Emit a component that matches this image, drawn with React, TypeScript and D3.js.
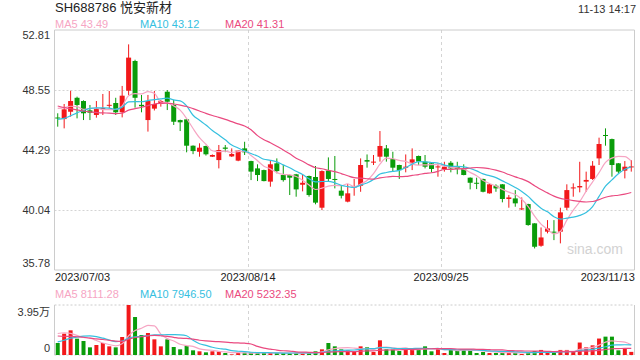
import React from "react";
import * as d3 from "d3";

const title = "SH688786 悦安新材";
const timeLabel = "11-13 14:17";
const dateLabels = ["2023/07/03", "2023/08/14", "2023/09/25", "2023/11/13"];
const dateIdx = [0, 30, 60, 89];
const priceTicks = [52.81, 48.55, 44.29, 40.04, 35.78];
const volMaxLabel = "3.95万";
const volMax = 39500;

const opens = [46.6,46.49,47.01,48.0,47.77,47.11,46.78,47.2,47.45,47.63,
46.97,48.5,50.61,47.5,46.42,47.23,47.56,48.43,47.49,46.42,
46.47,44.6,44.17,44.58,43.82,43.58,44.47,43.84,43.54,44.41,
43.51,42.99,42.87,42.05,43.35,42.52,42.52,42.57,41.83,42.45,
42.38,40.2,42.83,42.24,41.41,40.63,41.64,41.76,43.58,43.4,
43.82,44.41,43.65,43.23,43.06,43.4,43.87,43.47,43.35,43.1,
42.94,43.39,43.11,42.99,42.33,41.97,42.24,41.22,41.76,41.86,
40.82,40.86,40.1,40.46,39.09,37.5,38.5,38.5,38.5,40.2,
41.57,41.64,42.05,42.24,43.7,45.36,45.07,43.35,42.83,43.06];
const highs = [46.9,47.56,48.5,48.08,47.82,47.49,47.77,48.27,48.48,48.0,
48.84,51.79,50.7,48.2,48.2,48.48,47.84,48.55,47.84,46.45,
46.5,44.62,44.77,44.6,43.98,44.65,44.65,44.41,44.25,44.88,
43.53,43.28,42.9,43.58,43.7,43.23,42.55,42.6,42.52,42.48,
43.16,42.85,43.77,43.87,41.76,41.88,42.24,43.7,43.98,43.94,
45.64,44.65,44.17,43.25,43.98,44.41,43.9,43.94,43.37,43.35,
43.46,43.51,43.46,43.28,42.35,42.33,42.26,41.88,41.86,41.88,
41.1,41.45,40.93,40.48,39.1,38.8,39.32,39.32,40.2,41.86,
41.93,43.46,42.76,43.51,45.17,45.83,45.1,43.37,43.51,43.58];
const lows = [45.95,45.83,46.66,46.54,46.42,46.42,46.59,46.78,47.25,46.78,
46.61,48.2,47.3,46.97,45.6,47.1,47.37,47.13,46.07,45.64,
44.13,44.0,43.82,43.9,43.8,42.99,44.14,43.8,43.5,43.94,
42.16,42.09,42.07,41.69,42.64,42.05,41.1,40.98,41.36,40.98,
40.44,40.03,42.05,41.57,40.86,40.58,41.05,41.33,43.04,43.23,
43.47,43.47,42.8,42.24,42.71,42.87,43.23,42.99,42.71,42.4,
42.76,42.71,42.57,42.5,41.5,41.52,41.29,41.2,41.33,40.58,
40.2,40.27,40.03,38.92,37.31,37.43,38.38,37.9,37.67,40.03,
40.98,41.29,41.33,42.17,43.23,44.6,42.4,42.64,42.28,42.76];
const closes = [46.56,47.18,47.77,47.49,46.9,46.94,47.2,47.27,47.5,46.97,
48.15,50.85,48.0,47.4,47.77,47.56,47.77,47.72,46.3,46.26,
44.6,44.22,44.46,43.99,43.94,44.29,44.38,44.01,44.25,44.13,
42.76,42.52,42.09,43.28,42.8,42.16,42.33,41.5,41.97,41.1,
40.56,42.8,42.24,42.19,41.05,41.22,41.71,43.23,43.47,43.47,
44.58,43.82,43.04,42.87,43.11,43.63,43.47,43.11,42.95,43.13,
43.11,42.99,42.94,42.52,41.97,41.92,41.33,41.86,41.57,40.82,
40.93,40.51,40.15,38.97,37.43,38.09,38.73,38.45,39.87,41.45,
41.64,41.74,42.17,43.18,44.72,45.3,43.23,42.76,43.11,43.13];
const volumes = [9480,16850,19480,12900,11060,6050,7900,9480,6840,6050,
14220,39500,30000,15800,17380,12370,6840,12370,6320,4480,
7110,3690,2900,2100,2900,2630,1580,530,1580,1840,
1840,1580,1840,1580,1580,1580,1320,1580,1320,1840,
2900,4480,9480,6840,4480,3690,2900,6840,6050,2370,
11590,4480,4210,3160,5000,4210,4740,6840,2900,5000,
1580,4480,3690,4210,4480,1580,2370,1580,1580,2370,
1580,1580,790,2370,3160,4000,1840,1840,4000,4000,
2370,9850,6050,7640,13000,14500,14500,3690,5400,2466];
// closes / volumes of the 19 sessions before the first visible one (used only for the MAs)
const priorCloses = [49.6,49.3,49.0,48.6,48.2,48.0,47.9,47.7,47.8,47.6,
46.5,45.9,45.4,45.3,45.35,46.9,47.3,47.6,47.88];
const priorVolumes = [21000,20000,19500,19000,20500,19000,19500,20000,19000,19500,
3000,3500,4000,3800,3700,14000,22000,21000,18520];

const maLabelsPrice = ["MA5 43.49", "MA10 43.12", "MA20 41.31"];
const maLabelsVol = ["MA5 8111.28", "MA10 7946.50", "MA20 5232.35"];
const maPeriods = [5, 10, 20];
const maColors = ["#f6a5c3", "#35c0df", "#ea4a80"];

const RED = "#f2181a";
const GREEN = "#0a9c0a";
const FONT = "'Liberation Sans', Arial, 'Noto Sans CJK SC', sans-serif";

function movingAvg(prior: number[], vals: number[], n: number) {
  const all = prior.concat(vals);
  const off = prior.length;
  return vals.map((_, i) => d3.mean(all.slice(off + i - n + 1, off + i + 1)) as number);
}

export default function App() {
  const W = 640, H = 360;
  const left = 54.5, right = 634.5;
  const pTop = 30, pBot = 270, vTop = 305, vBot = 355;
  const idx = d3.range(closes.length);
  const x = d3.scaleBand<number>().domain(idx).range([left, right]).padding(0);
  const bw = x.bandwidth();
  const cx = (i: number) => (x(i) as number) + bw / 2;
  const y = d3.scaleLinear().domain([35.78, 52.81]).range([pBot, pTop]);
  const yv = d3.scaleLinear().domain([0, volMax]).range([vBot, vTop]);

  const priceMA = maPeriods.map((n) => movingAvg(priorCloses, closes, n));
  const volMA = maPeriods.map((n) => movingAvg(priorVolumes, volumes, n));
  const line = (sy: d3.ScaleLinear<number, number>) =>
    d3.line<number>().x((_, i) => cx(i)).y((d) => sy(d)).curve(d3.curveMonotoneX);

  const bodyW = 5;
  const volW = 4;
  const gridColor = "#d4d4d4";
  const legendX = [55, 140, 225];

  return (
    <svg width={W} height={H} style={{ position: "absolute", left: 0, top: 0, background: "#fff" }} fontFamily={FONT}>
      <defs>
        <clipPath id="pclip"><rect x={left} y={pTop} width={right - left} height={pBot - pTop} /></clipPath>
        <clipPath id="vclip"><rect x={left} y={vTop} width={right - left} height={vBot - vTop} /></clipPath>
      </defs>
      <text x={55} y={12} fontSize={13} fill="#222">{title}</text>
      <text x={636} y={13} fontSize={11} fill="#333" textAnchor="end">{timeLabel}</text>
      {maLabelsPrice.map((t, k) => (
        <text key={"lp" + k} x={legendX[k]} y={28} fontSize={11} fill={maColors[k]}>{t}</text>
      ))}

      {/* price grid */}
      {priceTicks.slice(1, 4).map((t) => (
        <line key={"g" + t} x1={left} x2={right} y1={Math.round(y(t)) + 0.5} y2={Math.round(y(t)) + 0.5}
          stroke={gridColor} strokeDasharray="2,2" />
      ))}
      {dateIdx.slice(1, 3).map((i) => (
        <g key={"vg" + i}>
          <line x1={Math.round(x(i) as number) + 0.5} x2={Math.round(x(i) as number) + 0.5} y1={pTop} y2={pBot}
            stroke={gridColor} strokeDasharray="3,3" />
          <line x1={Math.round(x(i) as number) + 0.5} x2={Math.round(x(i) as number) + 0.5} y1={vTop} y2={vBot}
            stroke={gridColor} strokeDasharray="3,3" />
        </g>
      ))}
      <line x1={left} x2={right} y1={pTop} y2={pTop} stroke="#ccc" />
      <line x1={left} x2={right} y1={pBot} y2={pBot} stroke="#ccc" />
      <line x1={left} x2={left} y1={pTop} y2={pBot} stroke="#ccc" />
      <line x1={right} x2={right} y1={pTop} y2={pBot} stroke="#ccc" />
      <line x1={left} x2={right} y1={vTop} y2={vTop} stroke="#ccc" strokeDasharray="2,2" />
      <line x1={left} x2={right} y1={vBot} y2={vBot} stroke="#ccc" strokeDasharray="2,2" />
      <line x1={left} x2={left} y1={vTop} y2={vBot} stroke="#ccc" />
      <line x1={right} x2={right} y1={vTop} y2={vBot} stroke="#ccc" />

      {/* price axis labels */}
      {priceTicks.map((t, k) => {
        const yy = y(t);
        const ty = k === 0 ? yy + 9 : k === priceTicks.length - 1 ? yy - 3 : yy + 4;
        return <text key={"pt" + t} x={50} y={ty} fontSize={11} fill="#333" textAnchor="end">{t.toFixed(2)}</text>;
      })}

      <text x={623} y={254} fontSize={14} fill="#d2d2d2" textAnchor="end">sina.com</text>

      {/* candles */}
      <g clipPath="url(#pclip)">
        {idx.map((i) => {
          const up = closes[i] >= opens[i];
          const col = up ? RED : GREEN;
          const top = y(Math.max(opens[i], closes[i]));
          const bot = y(Math.min(opens[i], closes[i]));
          return (
            <g key={"c" + i}>
              <line x1={cx(i)} x2={cx(i)} y1={y(highs[i])} y2={y(lows[i])} stroke={col} strokeWidth={1} />
              <rect x={cx(i) - bodyW / 2} y={top} width={bodyW} height={Math.max(1, bot - top)} fill={col} />
            </g>
          );
        })}
        {priceMA.map((m, k) => (
          <path key={"pm" + k} d={line(y)(m) as string} fill="none" stroke={maColors[k]} strokeWidth={1.2} />
        ))}
      </g>

      {/* date labels */}
      {dateLabels.map((t, k) => {
        const anchor = k === 0 ? "start" : k === dateLabels.length - 1 ? "end" : "middle";
        const xx = k === 0 ? 55 : k === dateLabels.length - 1 ? 635 : Math.round(x(dateIdx[k]) as number);
        return <text key={"d" + k} x={xx} y={281} fontSize={11} fill="#222" textAnchor={anchor}>{t}</text>;
      })}
      {maLabelsVol.map((t, k) => (
        <text key={"lv" + k} x={legendX[k]} y={298} fontSize={11} fill={maColors[k]}>{t}</text>
      ))}

      <text x={50} y={316} fontSize={11} fill="#333" textAnchor="end">{volMaxLabel}</text>
      <text x={50} y={352} fontSize={11} fill="#333" textAnchor="end">0</text>

      {/* volume */}
      <g clipPath="url(#vclip)">
        {idx.map((i) => {
          const up = closes[i] >= opens[i];
          return (
            <rect key={"v" + i} x={cx(i) - volW / 2} y={yv(volumes[i])} width={volW}
              height={vBot - yv(volumes[i])} fill={up ? RED : GREEN} />
          );
        })}
        {volMA.map((m, k) => (
          <path key={"vm" + k} d={line(yv)(m) as string} fill="none" stroke={maColors[k]} strokeWidth={1.2} />
        ))}
      </g>
    </svg>
  );
}
